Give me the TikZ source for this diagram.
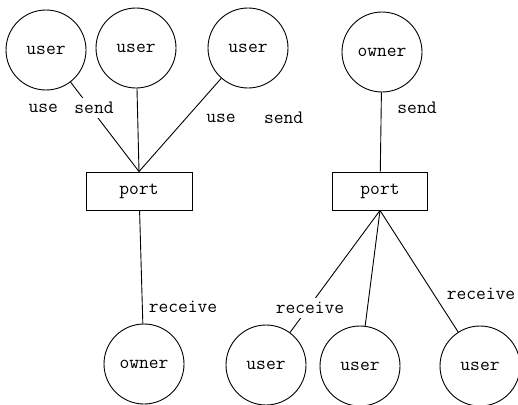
\documentclass[tikz,border=0pt]{standalone}
\usetikzlibrary{positioning}
\begin{document}
\begin{tikzpicture}[
  x=1pt, y=-1pt,
  proc/.style={circle, draw, line width=0.9pt, minimum size=80pt, inner sep=0pt, font=\fontsize{19}{22}\selectfont\ttfamily},
  portbox/.style={rectangle, draw, line width=0.9pt, minimum height=38pt, inner sep=0pt, font=\fontsize{19}{22}\selectfont\ttfamily},
  lbl/.style={font=\fontsize{19}{22}\selectfont\ttfamily, inner sep=2pt},
  link/.style={line width=0.9pt},
]
\useasboundingbox (0,0) rectangle (518,404);

% === Left: many users send to one port ===
\node[proc] (ua) at (46,50) {user};
\node[proc] (ub) at (136,48) {user};
\node[proc] (uc) at (248,48) {user};
\node[portbox, minimum width=106pt] (pl) at (139,191) {port};
\node[proc] (ol) at (144,364) {owner};

\draw[link] (ua) -- (pl.north);
\draw[link] (ub) -- (pl.north);
\draw[link] (uc) -- (pl.north);
\draw[link] (pl) -- (ol);

\node[lbl, fill=white, inner sep=4pt] (snda) at (94,108) {send};
\node[lbl, left=10pt of snda] {use};
\node[lbl] (usec) at (221,118) {use};
\node[lbl, right=24pt of usec] {send};
\node[lbl] at (183,307) {receive};

% === Right: one owner sends, many users receive ===
\node[proc] (or) at (382,52) {owner};
\node[portbox, minimum width=95pt] (pr) at (380,191) {port};
\node[proc] (ud) at (266,365) {user};
\node[proc] (ue) at (360,366) {user};
\node[proc] (uf) at (480,366) {user};

\draw[link] (or) -- (pr);
\draw[link] (pr.south) -- (ud);
\draw[link] (pr.south) -- (ue);
\draw[link] (pr.south) -- (uf);

\node[lbl] at (417,108) {send};
\node[lbl, fill=white, inner sep=4pt] at (310,308) {receive};
\node[lbl] at (481,294) {receive};

\end{tikzpicture}
\end{document}
